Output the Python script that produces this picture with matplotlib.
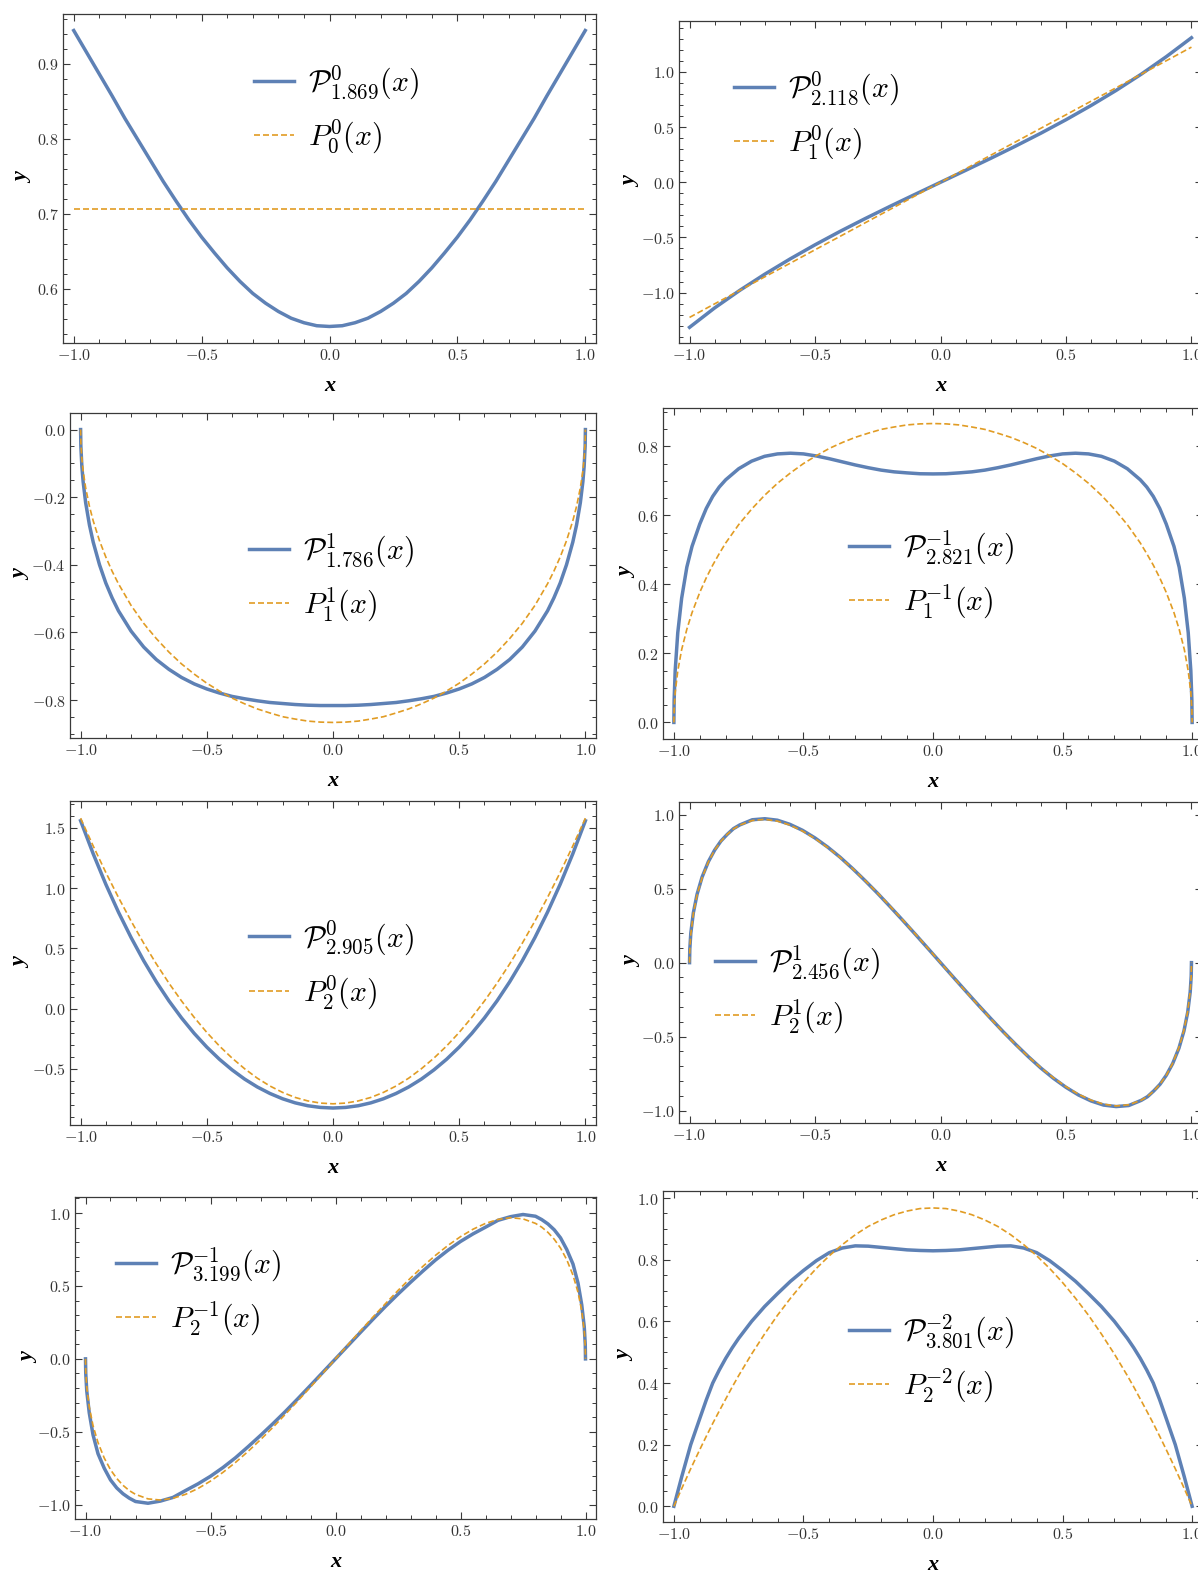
import numpy as np
import matplotlib
matplotlib.use("Agg")
import matplotlib.pyplot as plt
from matplotlib.ticker import MultipleLocator, FuncFormatter

plt.rcParams['mathtext.fontset'] = 'cm'
plt.rcParams['font.family'] = 'DejaVu Serif'

W, H = 1198, 1571

# Panel 1: P_1.869^0 vs P_0^0
x1 = [-1.0, -0.95, -0.9, -0.85, -0.8, -0.75, -0.7, -0.65, -0.6, -0.55, -0.5, -0.45, -0.4, -0.35, -0.3,
      -0.25, -0.2, -0.15, -0.1, -0.05, 0.0, 0.05, 0.1, 0.15, 0.2, 0.25, 0.3, 0.35, 0.4, 0.45, 0.5,
      0.55, 0.6, 0.65, 0.7, 0.75, 0.8, 0.85, 0.9, 0.95, 1.0]
blue1 = [0.944, 0.915, 0.886, 0.857, 0.827, 0.799, 0.771, 0.743, 0.717, 0.692, 0.669, 0.648, 0.628, 0.610, 0.594,
         0.581, 0.570, 0.561, 0.555, 0.551, 0.550, 0.551, 0.555, 0.561, 0.570, 0.581, 0.594, 0.610, 0.628, 0.648, 0.669,
         0.692, 0.717, 0.743, 0.771, 0.799, 0.827, 0.857, 0.886, 0.915, 0.944]
x1_orange = [-1.0, 1.0]
orange1 = [0.707, 0.707]

# Panel 2: P_2.118^0 vs P_1^0
x2 = [-1.0, -0.9, -0.8, -0.7, -0.6, -0.5, -0.4, -0.3, -0.2, -0.1, 0.0,
      0.1, 0.2, 0.3, 0.4, 0.5, 0.6, 0.7, 0.8, 0.9, 1.0]
blue2 = [-1.315, -1.139, -0.980, -0.833, -0.696, -0.567, -0.445, -0.329, -0.217, -0.108, 0.000,
         0.108, 0.217, 0.329, 0.445, 0.567, 0.696, 0.833, 0.980, 1.139, 1.310]
orange2 = [-1.225, -1.102, -0.980, -0.857, -0.735, -0.612, -0.490, -0.367, -0.245, -0.122, 0.000,
           0.122, 0.245, 0.367, 0.490, 0.612, 0.735, 0.857, 0.980, 1.102, 1.225]

# Panel 3: P_1.786^1 vs P_1^1
x3 = [-1.0, -0.999, -0.995, -0.99, -0.98, -0.965, -0.95, -0.925, -0.9, -0.875, -0.85, -0.8, -0.75, -0.7,
      -0.65, -0.6, -0.55, -0.5, -0.45, -0.4, -0.35, -0.3, -0.25, -0.2, -0.15, -0.1, -0.05, 0.0,
      0.05, 0.1, 0.15, 0.2, 0.25, 0.3, 0.35, 0.4, 0.45, 0.5, 0.55, 0.6, 0.65,
      0.7, 0.75, 0.8, 0.85, 0.875, 0.9, 0.925, 0.95, 0.965, 0.98, 0.99, 0.995, 0.999, 1.0]
blue3 = [0.0, -0.049, -0.109, -0.154, -0.216, -0.282, -0.333, -0.400, -0.454, -0.498, -0.536, -0.596, -0.643, -0.680,
         -0.709, -0.733, -0.752, -0.767, -0.779, -0.789, -0.796, -0.802, -0.807, -0.810, -0.813, -0.815, -0.816, -0.816,
         -0.816, -0.815, -0.813, -0.810, -0.807, -0.802, -0.796, -0.789, -0.779, -0.767, -0.752, -0.733, -0.709,
         -0.680, -0.643, -0.596, -0.536, -0.498, -0.454, -0.400, -0.333, -0.282, -0.216, -0.154, -0.109, -0.049, 0.0]
orange3 = [0.0, -0.039, -0.087, -0.122, -0.172, -0.227, -0.270, -0.329, -0.377, -0.419, -0.456, -0.520, -0.573, -0.618,
           -0.658, -0.693, -0.723, -0.750, -0.773, -0.794, -0.811, -0.826, -0.838, -0.849, -0.856, -0.862, -0.865, -0.866,
           -0.865, -0.862, -0.856, -0.849, -0.838, -0.826, -0.811, -0.794, -0.773, -0.750, -0.723, -0.693, -0.658,
           -0.618, -0.573, -0.520, -0.456, -0.419, -0.377, -0.329, -0.270, -0.227, -0.172, -0.122, -0.087, -0.039, 0.0]

# Panel 4: P_2.821^-1 vs P_1^-1
x4 = [-1.0, -0.999, -0.995, -0.985, -0.97, -0.95, -0.93, -0.9, -0.875, -0.85, -0.825, -0.8, -0.75, -0.7, -0.65,
      -0.6, -0.55, -0.5, -0.45, -0.4, -0.35, -0.3, -0.25, -0.2, -0.15, -0.1, -0.05, 0.0,
      0.05, 0.1, 0.15, 0.2, 0.25, 0.3, 0.35, 0.4, 0.45, 0.5, 0.55, 0.6,
      0.65, 0.7, 0.75, 0.8, 0.825, 0.85, 0.875, 0.9, 0.93, 0.95, 0.97, 0.985, 0.995, 0.999, 1.0]
blue4 = [0.0, 0.065, 0.150, 0.260, 0.360, 0.450, 0.510, 0.575, 0.620, 0.655, 0.682, 0.703, 0.735, 0.757, 0.771,
         0.778, 0.780, 0.778, 0.772, 0.764, 0.755, 0.746, 0.738, 0.731, 0.726, 0.723, 0.7205, 0.720,
         0.7205, 0.723, 0.726, 0.731, 0.738, 0.746, 0.755, 0.764, 0.772, 0.778, 0.780, 0.778,
         0.771, 0.757, 0.735, 0.703, 0.682, 0.655, 0.620, 0.575, 0.510, 0.450, 0.360, 0.260, 0.150, 0.065, 0.0]
orange4 = [0.0, 0.039, 0.087, 0.149, 0.211, 0.270, 0.318, 0.377, 0.419, 0.456, 0.489, 0.520, 0.573, 0.618, 0.658,
           0.693, 0.723, 0.750, 0.773, 0.794, 0.811, 0.826, 0.838, 0.849, 0.856, 0.862, 0.865, 0.866,
           0.865, 0.862, 0.856, 0.849, 0.838, 0.826, 0.811, 0.794, 0.773, 0.750, 0.723, 0.693,
           0.658, 0.618, 0.573, 0.520, 0.489, 0.456, 0.419, 0.377, 0.318, 0.270, 0.211, 0.149, 0.087, 0.039, 0.0]

# Panel 5: P_2.905^0 vs P_2^0
x5 = [-1.0, -0.95, -0.9, -0.85, -0.8, -0.75, -0.7, -0.65, -0.6, -0.55, -0.5, -0.45, -0.4, -0.35, -0.3,
      -0.25, -0.2, -0.15, -0.1, -0.05, 0.0, 0.05, 0.1, 0.15, 0.2, 0.25, 0.3, 0.35, 0.4, 0.45, 0.5,
      0.55, 0.6, 0.65, 0.7, 0.75, 0.8, 0.85, 0.9, 0.95, 1.0]
blue5 = [1.560, 1.285, 1.032, 0.801, 0.590, 0.397, 0.222, 0.064, -0.078, -0.206, -0.320, -0.421, -0.509, -0.586, -0.651,
         -0.705, -0.749, -0.783, -0.807, -0.821, -0.826, -0.821, -0.807, -0.783, -0.749, -0.705, -0.651, -0.586, -0.509, -0.421, -0.320,
         -0.206, -0.078, 0.064, 0.222, 0.397, 0.590, 0.801, 1.032, 1.285, 1.560]
orange5 = [1.581, 1.350, 1.130, 0.923, 0.727, 0.543, 0.371, 0.211, 0.063, -0.073, -0.198, -0.311, -0.411, -0.500, -0.578,
           -0.643, -0.696, -0.738, -0.767, -0.785, -0.791, -0.785, -0.767, -0.738, -0.696, -0.643, -0.578, -0.500, -0.411, -0.311, -0.198,
           -0.073, 0.063, 0.211, 0.371, 0.543, 0.727, 0.923, 1.130, 1.350, 1.581]

# Panels 6 and 7 share one x grid
x67 = [-1.0, -0.999, -0.995, -0.985, -0.97, -0.95, -0.925, -0.9, -0.875, -0.85, -0.825, -0.8, -0.75, -0.7,
       -0.65, -0.6, -0.55, -0.5, -0.45, -0.4, -0.35, -0.3, -0.25, -0.2, -0.15, -0.1, -0.05, 0.0,
       0.05, 0.1, 0.15, 0.2, 0.25, 0.3, 0.35, 0.4, 0.45, 0.5, 0.55, 0.6, 0.65,
       0.7, 0.75, 0.8, 0.825, 0.85, 0.875, 0.9, 0.925, 0.95, 0.97, 0.985, 0.995, 0.999, 1.0]

# Panel 6: P_2.456^1 vs P_2^1
blue6 = [0.0, 0.090, 0.198, 0.335, 0.462, 0.578, 0.682, 0.760, 0.821, 0.866, 0.905, 0.930, 0.965, 0.972,
         0.962, 0.934, 0.894, 0.842, 0.781, 0.712, 0.635, 0.553, 0.467, 0.377, 0.285, 0.191, 0.096, 0.0,
         -0.096, -0.191, -0.285, -0.377, -0.467, -0.553, -0.635, -0.712, -0.781, -0.842, -0.894, -0.934, -0.962,
         -0.972, -0.965, -0.930, -0.905, -0.866, -0.821, -0.760, -0.682, -0.578, -0.462, -0.335, -0.198, -0.090, 0.0]
orange6 = [0.0, 0.087, 0.193, 0.329, 0.457, 0.574, 0.680, 0.760, 0.820, 0.867, 0.903, 0.929, 0.960, 0.968,
           0.956, 0.929, 0.889, 0.838, 0.778, 0.710, 0.635, 0.554, 0.469, 0.379, 0.287, 0.193, 0.097, 0.0,
           -0.097, -0.193, -0.287, -0.379, -0.469, -0.554, -0.635, -0.710, -0.778, -0.838, -0.889, -0.929, -0.956,
           -0.968, -0.960, -0.929, -0.903, -0.867, -0.820, -0.760, -0.680, -0.574, -0.457, -0.329, -0.193, -0.087, 0.0]

# Panel 7: P_3.199^-1 vs P_2^-1
blue7 = [0.0, -0.100, -0.220, -0.370, -0.520, -0.650, -0.750, -0.830, -0.885, -0.925, -0.955, -0.978, -0.990, -0.975,
         -0.950, -0.903, -0.857, -0.805, -0.745, -0.678, -0.603, -0.525, -0.444, -0.360, -0.272, -0.182, -0.091, 0.0,
         0.091, 0.182, 0.272, 0.360, 0.444, 0.525, 0.603, 0.678, 0.745, 0.805, 0.857, 0.903, 0.950,
         0.975, 0.990, 0.978, 0.955, 0.925, 0.885, 0.830, 0.750, 0.650, 0.520, 0.370, 0.220, 0.100, 0.0]
orange7 = [0.0, -0.087, -0.193, -0.329, -0.457, -0.574, -0.680, -0.760, -0.820, -0.867, -0.903, -0.929, -0.960, -0.968,
           -0.956, -0.929, -0.889, -0.838, -0.778, -0.710, -0.635, -0.554, -0.469, -0.379, -0.287, -0.193, -0.097, 0.0,
           0.097, 0.193, 0.287, 0.379, 0.469, 0.554, 0.635, 0.710, 0.778, 0.838, 0.889, 0.929, 0.956,
           0.968, 0.960, 0.929, 0.903, 0.867, 0.820, 0.760, 0.680, 0.574, 0.457, 0.329, 0.193, 0.087, 0.0]

# Panel 8: P_3.801^-2 vs P_2^-2
x8 = [-1.0, -0.97, -0.935, -0.9, -0.875, -0.85, -0.825, -0.8, -0.775, -0.75, -0.7, -0.65, -0.6, -0.55, -0.5,
      -0.45, -0.4, -0.35, -0.3, -0.25, -0.2, -0.15, -0.1, -0.05, 0.0, 0.05, 0.1, 0.15, 0.2, 0.25, 0.3,
      0.35, 0.4, 0.45, 0.5, 0.55, 0.6, 0.65, 0.7, 0.75, 0.775, 0.8, 0.825, 0.85, 0.875, 0.9, 0.935, 0.97, 1.0]
blue8 = [0.0, 0.095, 0.200, 0.285, 0.345, 0.400, 0.442, 0.480, 0.514, 0.545, 0.600, 0.648, 0.690, 0.730, 0.765,
         0.797, 0.823, 0.838, 0.845, 0.844, 0.840, 0.836, 0.832, 0.830, 0.829, 0.830, 0.832, 0.836, 0.840, 0.844, 0.845,
         0.838, 0.823, 0.797, 0.765, 0.730, 0.690, 0.648, 0.600, 0.545, 0.514, 0.480, 0.442, 0.400, 0.345, 0.285, 0.200, 0.095, 0.0]
orange8 = [0.0, 0.057, 0.122, 0.184, 0.227, 0.269, 0.309, 0.348, 0.387, 0.424, 0.494, 0.559, 0.620, 0.675, 0.726,
           0.772, 0.813, 0.849, 0.881, 0.908, 0.929, 0.946, 0.958, 0.966, 0.968, 0.966, 0.958, 0.946, 0.929, 0.908, 0.881,
           0.849, 0.813, 0.772, 0.726, 0.675, 0.620, 0.559, 0.494, 0.424, 0.387, 0.348, 0.309, 0.269, 0.227, 0.184, 0.122, 0.057, 0.0]

blue_labels = [r'$\mathcal{P}^{\mathbf{0}}_{1.869}(x)$', r'$\mathcal{P}^{\mathbf{0}}_{\mathbf{2.118}}(x)$',
               r'$\mathcal{P}^{\mathbf{1}}_{1.786}(x)$', r'$\mathcal{P}^{\mathbf{-1}}_{\mathbf{2.821}}(x)$',
               r'$\mathcal{P}^{\mathbf{0}}_{\mathbf{2.905}}(x)$', r'$\mathcal{P}^{\mathbf{1}}_{\mathbf{2.456}}(x)$',
               r'$\mathcal{P}^{\mathbf{-1}}_{3.199}(x)$', r'$\mathcal{P}^{\mathbf{-2}}_{\mathbf{3.801}}(x)$']
orange_labels = [r'$P^{\mathbf{0}}_{\mathbf{0}}(x)$', r'$P^{\mathbf{0}}_{\mathbf{1}}(x)$',
                 r'$P^{\mathbf{1}}_{\mathbf{1}}(x)$', r'$P^{\mathbf{-1}}_{\mathbf{1}}(x)$',
                 r'$P^{\mathbf{0}}_{\mathbf{2}}(x)$', r'$P^{\mathbf{1}}_{\mathbf{2}}(x)$',
                 r'$P^{\mathbf{-1}}_{\mathbf{2}}(x)$', r'$P^{\mathbf{-2}}_{\mathbf{2}}(x)$']

curves = [
    (x1, blue1, x1_orange, orange1),
    (x2, blue2, x2, orange2),
    (x3, blue3, x3, orange3),
    (x4, blue4, x4, orange4),
    (x5, blue5, x5, orange5),
    (x67, blue6, x67, orange6),
    (x67, blue7, x67, orange7),
    (x8, blue8, x8, orange8),
]

# layout in pixels: left, right, top, bottom of each frame
frames = [(63, 596, 14, 343), (679, 1202, 21, 343),
          (70, 596, 413, 738), (663, 1203, 408, 739),
          (70, 596, 801, 1125), (679, 1202, 802, 1123),
          (75, 596, 1197, 1519), (663, 1203, 1191, 1522)]
ylims = [(0.528, 0.966), (-1.457, 1.462), (-0.912, 0.049), (-0.048, 0.911),
         (-0.967, 1.724), (-1.083, 1.085), (-1.098, 1.11), (-0.051, 1.023)]
ysteps = [(0.1, 0.02), (0.5, 0.1), (0.2, 0.05), (0.2, 0.05),
          (0.5, 0.1), (0.5, 0.1), (0.5, 0.1), (0.2, 0.05)]
# legend: left end of the handle and middle between the two rows (pixels)
legend_pos = [(254, 110), (734, 116), (249, 578), (849, 575),
              (249, 965), (715, 990), (116, 1292), (849, 1359)]
ylabel_x = [23, 631, 21, 627, 21, 632, 29, 625]

blue = '#5E81B5'
orange = '#E19C24'
frame_col = '#3a3a3a'

tick_fmt = FuncFormatter(lambda v, p: '$%.1f$' % (round(v, 3) + 0.0))

fig = plt.figure(figsize=(W / 100, H / 100), dpi=100)

for i in range(8):
    l, r, t, b = frames[i]
    ax = fig.add_axes([l / W, 1 - b / H, (r - l) / W, (b - t) / H])
    xb, yb, xo, yo = curves[i]
    ax.plot(xb, yb, color=blue, lw=2.5, label=blue_labels[i], solid_joinstyle='round')
    ax.plot(xo, yo, color=orange, lw=1.2, linestyle=(0, (3.6, 1.8)), label=orange_labels[i])
    ax.set_xlim(-1.042, 1.042)
    ax.set_ylim(*ylims[i])

    ax.xaxis.set_major_locator(MultipleLocator(0.5))
    ax.xaxis.set_minor_locator(MultipleLocator(0.1))
    ax.yaxis.set_major_locator(MultipleLocator(ysteps[i][0]))
    ax.yaxis.set_minor_locator(MultipleLocator(ysteps[i][1]))
    ax.xaxis.set_major_formatter(tick_fmt)
    ax.yaxis.set_major_formatter(tick_fmt)
    ax.tick_params(which='both', direction='in', top=True, right=True, color=frame_col,
                   labelcolor='#333333', labelsize=11.5, pad=3)
    ax.tick_params(which='major', length=5, width=0.8)
    ax.tick_params(which='minor', length=2.8, width=0.7)
    for s in ax.spines.values():
        s.set_color(frame_col)
        s.set_linewidth(0.9)

    hx, hy = legend_pos[i]
    ax.legend(loc='center left', bbox_to_anchor=(hx / W, 1 - hy / H), bbox_transform=fig.transFigure,
              frameon=False, fontsize=21.5, borderpad=0, borderaxespad=0,
              handlelength=1.35, handletextpad=0.45, labelspacing=0.55)

    # axis labels
    fig.text((l + r) / 2 / W, 1 - (b + 43) / H, 'x',
             ha='center', va='center', fontsize=16, fontweight='bold', fontstyle='italic',
             family='Liberation Serif')
    fig.text(ylabel_x[i] / W, 1 - (t + b) / 2 / H, 'y', ha='center', va='center', rotation=90,
             fontsize=16, fontweight='bold', fontstyle='italic', family='Liberation Serif')

fig.savefig('out.png', dpi=100)
